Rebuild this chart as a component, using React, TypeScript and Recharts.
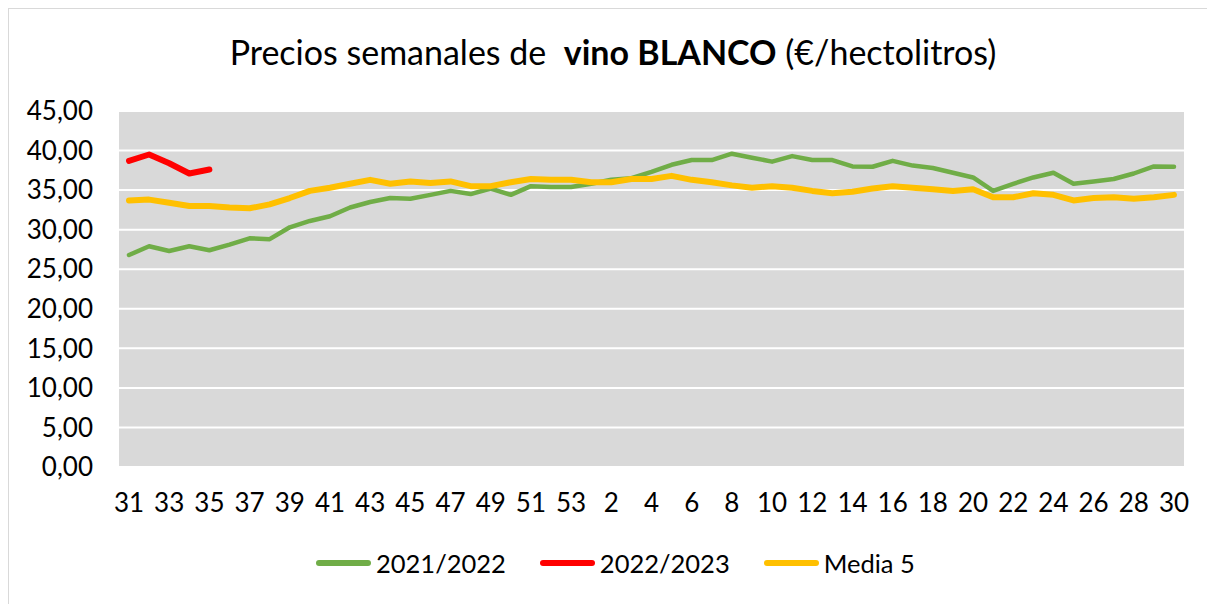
import { CartesianGrid, Line, LineChart, XAxis, YAxis } from "recharts";

const FONT = "Lato, 'Open Sans', sans-serif";

const weeks = [
  "31", "32", "33", "34", "35", "36", "37", "38", "39", "40", "41", "42", "43", "44", "45", "46", "47", "48", "49", "50", "51", "52", "53",
  "1", "2", "3", "4", "5", "6", "7", "8", "9", "10", "11", "12", "13", "14", "15", "16", "17", "18", "19", "20", "21", "22", "23", "24", "25", "26", "27", "28", "29", "30",
];

const season2122 = [
  26.8, 27.9, 27.3, 27.9, 27.4, 28.1, 28.9, 28.8, 30.3, 31.1, 31.7, 32.8, 33.5, 34.0, 33.9, 34.4, 34.9, 34.5, 35.2, 34.4, 35.5, 35.4, 35.4,
  35.8, 36.3, 36.5, 37.3, 38.2, 38.8, 38.8, 39.6, 39.1, 38.6, 39.3, 38.8, 38.8, 38.0, 37.95, 38.7, 38.1, 37.8, 37.2, 36.6, 34.9, 35.8, 36.6, 37.2, 35.8, 36.1, 36.4, 37.1, 38.0, 37.95,
];

const season2223 = [38.7, 39.5, 38.4, 37.1, 37.6];

const media5 = [
  33.7, 33.8, 33.4, 33.0, 33.0, 32.8, 32.7, 33.2, 34.0, 34.9, 35.3, 35.8, 36.3, 35.8, 36.1, 35.9, 36.1, 35.5, 35.5, 36.0, 36.4, 36.3, 36.3,
  36.0, 36.0, 36.4, 36.4, 36.8, 36.3, 36.0, 35.6, 35.3, 35.5, 35.3, 34.9, 34.6, 34.8, 35.2, 35.5, 35.3, 35.1, 34.9, 35.1, 34.1, 34.1, 34.6, 34.4, 33.7, 34.0, 34.1, 33.9, 34.1, 34.4,
];

const yTicks = [0, 5, 10, 15, 20, 25, 30, 35, 40, 45];

const series = [
  { key: "s2122", name: "2021/2022", color: "#70ad47", width: 4.5 },
  { key: "s2223", name: "2022/2023", color: "#ff0000", width: 6 },
  { key: "media", name: "Media 5", color: "#ffc000", width: 6 },
];

const data = weeks.map((w, i) => ({
  week: w,
  s2122: season2122[i],
  s2223: i < season2223.length ? season2223[i] : null,
  media: media5[i],
}));

const fmt = (v: number) => v.toFixed(2).replace(".", ",");

export default function App() {
  return (
    <div
      style={{
        position: "relative",
        width: 1210,
        height: 600,
        border: "1px solid #d9d9d9",
        background: "#fff",
        fontFamily: FONT,
      }}
    >
      <div
        style={{
          position: "absolute",
          top: 21,
          left: 0,
          width: 1208,
          textAlign: "center",
          fontSize: 34,
          lineHeight: "44px",
          color: "#000",
          whiteSpace: "pre",
        }}
      >
        {"Precios semanales de  "}
        <b>vino BLANCO</b>
        {" (€/hectolitros)"}
      </div>

      <LineChart width={1209} height={599} data={data} margin={{ top: 102, right: 34, bottom: 101, left: 0 }}>
        <CartesianGrid vertical={false} stroke="#fff" strokeWidth={2} fill="#d9d9d9" />
        <XAxis
          dataKey="week"
          interval={1}
          axisLine={false}
          tickLine={false}
          tickSize={0}
          tickMargin={27}
          height={40}
          padding={{ left: 10, right: 10 }}
          tick={{ fill: "#000", fontSize: 26, fontFamily: FONT }}
        />
        <YAxis
          domain={[0, 45]}
          ticks={yTicks}
          tickFormatter={fmt}
          axisLine={false}
          tickLine={false}
          tickSize={0}
          tickMargin={26}
          width={110}
          tick={{ fill: "#000", fontSize: 26, fontFamily: FONT }}
        />
        {series.map((s) => (
          <Line
            key={s.key}
            dataKey={s.key}
            name={s.name}
            type="linear"
            stroke={s.color}
            strokeWidth={s.width}
            strokeLinecap="round"
            strokeLinejoin="round"
            dot={false}
            activeDot={false}
            isAnimationActive={false}
          />
        ))}
      </LineChart>

      <div
        style={{
          position: "absolute",
          top: 539,
          left: 307,
          height: 30,
          display: "flex",
          alignItems: "center",
          fontSize: 25.5,
          color: "#000",
        }}
      >
        {series.map((s) => (
          <div key={s.key} style={{ display: "flex", alignItems: "center", marginRight: 34 }}>
            <span
              style={{
                display: "inline-block",
                width: 55,
                height: 6,
                borderRadius: 3,
                background: s.color,
                marginRight: 5,
              }}
            />
            <span>{s.name}</span>
          </div>
        ))}
      </div>
    </div>
  );
}
